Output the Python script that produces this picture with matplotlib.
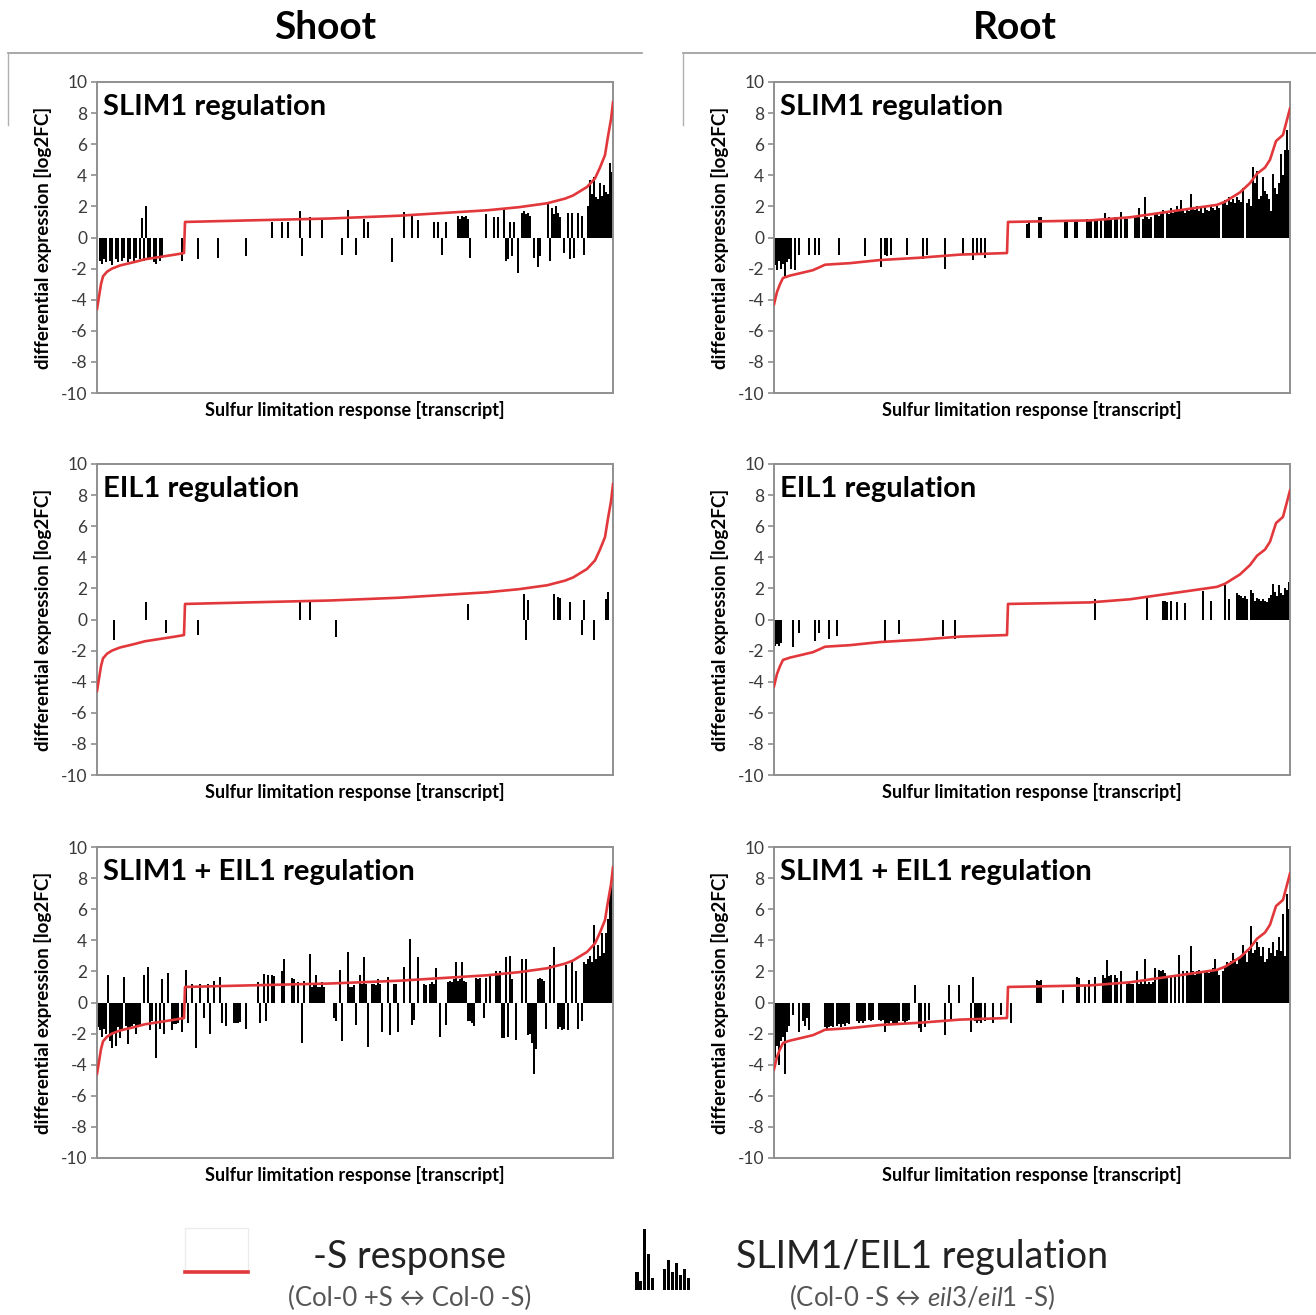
import numpy as np
import matplotlib
matplotlib.use('Agg')
import matplotlib.pyplot as plt
from matplotlib.lines import Line2D
from matplotlib.patches import Rectangle

plt.rcParams['font.family'] = ['Lato', 'DejaVu Sans']
plt.rcParams['axes.unicode_minus'] = False
plt.rcParams['mathtext.fontset'] = 'custom'
plt.rcParams['mathtext.rm'] = 'Lato'
plt.rcParams['mathtext.it'] = 'Lato:italic'

#########################################################################################
# data: transcripts ranked by -S response (Col-0 +S vs Col-0 -S), log2FC

n_transcripts = 258

# -S response curves (rank, log2FC)
shoot_curve_rank = [-0.5, 0.5, 1.5, 2.5, 4.5, 7, 11, 17.5, 23.5, 31, 38.5, 43, 43.5, 75.5,
                    115.5, 150.5, 194.5, 210.5, 224.5, 233.5, 237.5, 244.5, 248.5, 251,
                    253.5, 255, 256.5, 257.5]
shoot_curve_fc = [-4.6, -3.8, -3.0, -2.5, -2.2, -2.0, -1.8, -1.6, -1.4, -1.25, -1.1, -1.0, 1.0, 1.1,
                  1.22, 1.4, 1.75, 1.95, 2.2, 2.5, 2.7, 3.25, 3.8, 4.5,
                  5.3, 6.5, 7.6, 8.7]

root_curve_rank = [-0.5, 1, 2.5, 4, 7.5, 12.5, 19, 22.5, 25, 37.5, 52.5, 72.5, 92.5, 116, 116.5,
                   137.5, 157.5, 177.5, 191, 207.5, 221, 225, 232.5, 237.5, 241, 245, 247.5,
                   250.5, 254, 257.5]
root_curve_fc = [-4.3, -3.5, -3.0, -2.6, -2.45, -2.3, -2.1, -1.9, -1.75, -1.65, -1.45, -1.3, -1.1, -1.0, 1.0,
                 1.05, 1.1, 1.3, 1.55, 1.85, 2.1, 2.3, 2.9, 3.5, 4.1, 4.5, 5.0,
                 6.2, 6.6, 8.3]

# SLIM1/EIL1 regulation (Col-0 -S vs eil3/eil1 -S), log2FC per regulated transcript
shoot_slim1_rank = [1, 2, 3, 4, 6, 7, 9, 10, 12, 13, 15, 16, 18, 19, 21, 22, 23, 24, 25, 26, 28, 29, 31, 32,
                    42, 50, 60, 74, 87, 92, 95, 101, 102, 106, 112, 122, 125, 129, 133, 135, 147, 153, 157, 160, 168, 170, 172, 174,
                    180, 181, 182, 183, 184, 185, 186, 194, 198, 200, 203, 204, 205, 206, 207, 208, 210, 212, 213, 214, 215, 216, 218, 220, 221,
                    225, 226, 227, 228, 229, 230, 231, 233, 235, 236, 237, 238, 240, 242, 243, 245, 246, 247, 248, 249, 250, 251, 252, 253, 254, 255, 256, 257]
shoot_slim1_fc = [-1.5, -1.7, -1.4, -1.6, -1.5, -1.8, -1.4, -1.6, -1.5, -1.3, -1.6, -1.4, -1.5, -1.3, -1.4, 1.25, -1.5, 2.0, -1.3, -1.4, -1.6, -1.7, -1.5, -1.3,
                  -1.5, -1.4, -1.3, -1.2, 1.0, 1.0, 1.0, 1.7, -1.2, 1.3, 1.1, -1.1, 1.8, -1.1, 1.2, 1.0, -1.6, 1.65, 1.5, 1.1, 1.0, 1.0, -1.1, 1.0,
                  1.4, 1.2, 1.4, 1.3, 1.4, 1.2, -1.3, 1.5, 1.3, 1.3, 1.9, -1.5, -1.4, 1.0, -1.2, 1.0, -2.3, 1.6, 1.7, 1.5, 1.6, 1.4, -1.3, -1.9, -1.2,
                  2.2, -1.5, 1.9, 1.5, 2.0, 1.6, 1.3, -1.0, 1.6, -1.4, 1.6, -1.3, 1.6, 1.4, -1.1, 2.0, 3.7, 2.8, 3.9, 2.6, 2.5, 3.5, 2.7, 3.4, 2.9, 2.8, 4.8, 4.2]

shoot_eil1_rank = [8, 24, 34, 50, 101, 106, 119, 185, 213, 214, 215, 228, 230, 231, 236, 242, 243, 248, 254, 255]
shoot_eil1_fc = [-1.35, 1.1, -0.9, -1.0, 1.2, 1.2, -1.1, 1.0, 1.65, -1.35, 1.25, 1.65, 1.45, 1.4, 1.1, -1.0, 1.25, -1.35, 1.35, 1.8]

shoot_both_rank = [0, 1, 2, 3, 4, 5, 6, 7, 8, 9, 10, 11, 12, 13, 14, 15, 16, 17, 18, 19, 20, 21, 23, 25, 26, 27, 29, 31, 32, 33, 35, 37, 38, 39, 40, 42, 44, 45, 47, 49,
                   51, 53, 55, 56, 58, 61, 62, 64, 68, 69, 70, 71, 74, 80, 81, 83, 84, 85, 87, 88, 92, 93, 97, 98, 100, 102, 103, 106, 107, 108, 109, 110, 111, 112, 113,
                   118, 119, 121, 122, 125, 126, 127, 128, 129, 131, 132, 133, 134, 135, 137, 138, 139, 140, 141, 142, 145, 146, 148, 149, 150, 153, 156, 157, 158, 160,
                   163, 164, 166, 167, 168, 169, 171, 174, 175, 176, 177, 178, 179, 180, 181, 182, 183, 184, 185, 186, 187, 188, 189, 190, 191, 193, 194, 196, 199, 200,
                   201, 202, 203, 204, 205, 206, 207, 209, 212, 214, 215, 216, 217, 218, 219, 220, 221, 222, 223, 224, 226, 228, 230, 231, 232, 233, 234, 235, 237, 239,
                   240, 242, 243, 244, 245, 246, 247, 248, 249, 250, 251, 252, 253, 254, 255, 256, 257]
shoot_both_fc = [-1.6, -1.8, -2.2, -1.7, -2.0, 1.8, -2.5, -2.9, -2.0, -2.8, -1.6, -2.3, -1.7, 1.65, -1.5, -2.7, -1.6, -1.5, -1.4, -2.0, -1.5, -1.5, 1.8, 2.3, -1.8, -1.2, -3.6, -1.7, 1.5, -2.0, 1.9, -1.8, -1.4, -1.4, -1.3, -1.9, 2.1, -1.3, 1.2, -2.95,
                 1.2, -1.0, 1.2, -2.0, 1.4, 1.65, -1.3, -1.5, -1.3, -1.35, -1.3, -1.25, -1.7, 1.3, -1.3, 1.85, -1.2, 1.8, 1.8, 1.7, 2.0, 2.8, 1.6, 1.5, 1.3, -2.6, 1.4, 3.1, 1.0, 1.2, 1.8, 1.0, 1.0, 1.3, 1.0,
                 -1.0, -1.2, 2.1, -2.5, 3.25, 1.0, 1.0, 1.1, -1.45, 1.75, 1.2, 2.9, 1.2, -2.85, 1.2, 1.2, 1.1, 1.5, 1.2, -1.9, 1.65, -2.1, 1.2, 1.2, -1.9, 2.3, 4.1, -1.45, -1.1, 2.9,
                 1.2, 1.1, 1.2, 1.3, 1.2, 2.2, -2.2, -1.45, 1.3, 1.4, 1.3, 1.5, 2.6, 1.4, 1.5, 2.6, 1.4, 1.3, -1.2, -1.2, -1.3, -1.5, 1.6, 1.5, 1.6, -1.0, 1.6, 1.75, 2.0, 1.9,
                 2.0, -2.3, -2.3, 2.9, -2.2, 3.0, 1.5, -2.4, 2.8, 2.8, -2.1, -2.0, -2.6, -4.6, -3.0, 1.5, 1.6, 1.5, 1.4, -1.7, 2.4, 3.6, -1.7, -1.6, -1.8, -1.7, 2.4, -1.8, 2.6, 2.0,
                 -1.7, -1.2, 2.6, 2.5, 2.8, 3.0, 2.6, 5.0, 2.8, 3.7, 3.0, 4.5, 3.2, 4.5, 5.4, 7.1, 8.0]

root_slim1_rank = [0, 1, 2, 3, 4, 5, 6, 7, 8, 10, 12, 17, 20, 22, 32, 45, 53, 55, 56, 58, 66, 74, 76, 85, 94, 99, 101, 103, 105,
                   126, 127, 132, 133, 145, 146, 150, 151, 156, 157, 158, 160, 161, 163, 165, 166, 167, 168, 170, 171, 173, 175, 176, 180, 181, 182, 184, 185, 186, 187, 188,
                   190, 191, 192, 193, 194, 196, 197, 198, 199, 200, 201, 202, 203, 204, 205, 206, 207, 208, 209, 210, 211, 212, 213, 214, 215, 216, 217, 218, 219, 220, 221, 222,
                   224, 225, 226, 227, 228, 229, 230, 231, 232, 233, 234, 236, 237, 238, 239, 240, 241, 242, 243, 244, 245, 246, 247, 248, 249, 250, 251, 252, 253, 254, 255, 256, 257]
root_slim1_fc = [-1.8, -2.1, -1.5, -2.0, -1.7, -2.5, -1.6, -1.4, -2.0, -2.1, -1.1, -1.1, -1.1, -1.1, -1.1, -1.2, -1.9, -1.1, -1.2, -1.1, -1.1, -1.4, -1.1, -2.0, -1.1, -1.45, -1.1, -1.1, -1.35,
                 0.9, 1.0, 1.3, 1.3, 1.1, 1.1, 1.1, 1.1, 1.2, 1.1, 1.2, 1.2, 1.1, 1.2, 1.55, 1.2, 1.3, 1.1, 1.3, 1.2, 1.66, 1.3, 1.2, 1.3, 1.3, 1.9, 1.2, 2.6, 1.3, 1.2, 1.3,
                 1.6, 1.5, 1.4, 1.5, 1.8, 1.7, 1.5, 1.9, 1.6, 1.8, 2.0, 1.7, 2.4, 1.8, 1.6, 1.9, 1.7, 2.8, 1.9, 1.8, 2.0, 1.7, 1.9, 1.6, 2.0, 1.8, 1.7, 2.1, 1.9, 1.8, 2.0, 1.9,
                 2.2, 2.4, 2.1, 2.6, 2.3, 2.5, 2.2, 2.6, 2.4, 2.3, 3.2, 2.2, 2.5, 2.0, 4.55, 3.5, 4.3, 2.5, 2.7, 3.9, 3.0, 2.8, 2.5, 1.7, 4.1, 3.2, 2.8, 3.5, 5.4, 4.0, 5.6, 6.9, 5.6]

root_eil1_rank = [0, 1, 2, 3, 9, 12, 20, 22, 27, 31, 55, 62, 84, 90, 160, 186, 194, 195, 196, 198, 201, 205, 214, 218, 225,
                  227, 231, 232, 233, 234, 235, 236, 238, 239, 240, 241, 242, 243, 244, 245, 246, 247, 248, 249, 250, 251, 252, 253, 254, 255, 256, 257]
root_eil1_fc = [-1.7, -1.6, -1.7, -1.5, -1.8, -0.85, -1.4, -0.9, -1.27, -1.06, -1.38, -0.95, -1.06, -1.27, 1.3, 1.4, 1.2, 1.2, 1.1, 1.2, 1.1, 1.05, 1.83, 1.2, 2.25,
                1.3, 1.7, 1.6, 1.5, 1.4, 1.5, 1.3, 1.9, 1.7, 1.2, 1.4, 1.3, 1.2, 1.3, 1.2, 1.1, 1.4, 1.6, 2.3, 1.8, 1.5, 2.2, 1.7, 1.6, 2.0, 1.9, 2.4]

root_both_rank = [0, 1, 2, 3, 4, 5, 6, 7, 9, 12, 14, 15, 16, 17, 25, 26, 27, 28, 29, 31, 32, 33, 34, 35, 36, 37, 41, 42, 43, 44, 45, 47, 48, 49,
                  52, 53, 54, 55, 56, 57, 58, 59, 60, 61, 62, 64, 65, 66, 67, 70, 72, 73, 75, 77, 85, 87, 88, 92, 98, 99, 100, 101, 102, 103, 105, 109, 113, 118,
                  131, 132, 133, 144, 151, 152, 155, 157, 160, 164, 165, 166, 167, 168, 170, 171, 173, 176, 177, 178, 179, 181, 182, 183, 184, 185, 186, 187, 188, 189,
                  190, 192, 193, 194, 195, 196, 198, 200, 202, 204, 206, 207, 208, 209, 210, 211, 212, 213, 215, 216, 217, 218, 219, 220, 221, 222, 224,
                  225, 226, 227, 228, 229, 230, 231, 232, 233, 234, 235, 236, 237, 238, 239, 240, 241, 242, 243, 244, 245, 246, 247, 248, 249, 250, 251, 252, 253, 254, 255, 256, 257]
root_both_fc = [-3.6, -2.8, -4.0, -2.5, -2.2, -4.6, -1.9, -1.5, -0.8, -1.9, -1.2, -1.5, -1.0, -1.8, -1.6, -1.7, -1.6, -1.5, -1.6, -1.5, -1.4, -1.6, -1.4, -1.5, -1.3, -1.4, -1.2, -1.3, -1.2, -1.3, -1.2, -1.1, -1.2, -1.1,
                -1.1, -1.2, -1.1, -1.9, -1.3, -1.4, -1.2, -1.4, -1.3, -1.45, -1.2, -1.2, -1.3, -1.2, -1.1, 1.1, -1.65, -1.9, -1.55, -1.1, -2.1, 1.1, -1.2, 1.1, -1.9, 1.65, -1.2, -1.3, -1.2, -1.3, -1.2, -1.3, -0.8, -1.35,
                1.45, 1.4, 1.45, 0.8, 1.65, 1.6, 1.1, 1.45, 1.65, 1.75, 1.6, 2.75, 1.7, 1.75, 1.75, 1.6, 2.0, 1.2, 1.3, 1.2, 1.2, 2.0, 1.2, 1.3, 1.2, 2.8, 1.2, 1.3, 1.2, 1.3,
                2.2, 2.1, 2.0, 2.1, 1.9, 1.65, 1.65, 1.75, 3.05, 2.0, 2.0, 1.9, 3.65, 2.0, 1.8, 2.0, 2.1, 1.9, 2.0, 2.1, 1.9, 2.0, 2.2, 2.8, 2.0, 1.8, 2.0,
                2.3, 2.6, 2.4, 2.7, 3.2, 2.8, 2.5, 2.9, 3.0, 3.7, 3.1, 2.6, 3.3, 4.9, 3.2, 3.4, 3.9, 3.6, 3.0, 3.6, 2.6, 2.8, 3.5, 3.2, 3.9, 3.0, 3.4, 4.2, 3.3, 5.7, 3.0, 7.0, 6.0]

panel_titles = ['SLIM1 regulation', 'EIL1 regulation', 'SLIM1 + EIL1 regulation']
column_titles = ['Shoot', 'Root']

# little bar glyph for the legend
icon_pos = [0, 1, 2, 3, 4, 7, 8, 9, 10, 11, 12, 13]
icon_height = [0.3, 0.15, 1.0, 0.6, 0.2, 0.35, 0.5, 0.3, 0.45, 0.25, 0.35, 0.2]

#########################################################################################

W, H = 1316, 1315
fig = plt.figure(figsize=(W / 100, H / 100), dpi=100)

def px_rect(left, top, right, bottom):
    return [left / W, 1 - bottom / H, (right - left) / W, (bottom - top) / H]

def px(x, y):
    return x / W, 1 - y / H

red = '#e2383b'
frame = '#8f8f8f'

columns = {
    'Shoot': dict(left=97, right=613, title_x=325, curve=(shoot_curve_rank, shoot_curve_fc),
                  bars=[(shoot_slim1_rank, shoot_slim1_fc), (shoot_eil1_rank, shoot_eil1_fc),
                        (shoot_both_rank, shoot_both_fc)]),
    'Root': dict(left=774, right=1290, title_x=1015, curve=(root_curve_rank, root_curve_fc),
                 bars=[(root_slim1_rank, root_slim1_fc), (root_eil1_rank, root_eil1_fc),
                       (root_both_rank, root_both_fc)]),
}
row_tops = [82, 464, 847]
row_height = 311

for name in column_titles:
    col = columns[name]
    for r, top in enumerate(row_tops):
        rank, fc = col['bars'][r]
        assert len(rank) == len(fc)
        ax = fig.add_axes(px_rect(col['left'], top, col['right'], top + row_height))
        ax.bar(rank, fc, width=0.85, color='black', linewidth=0, zorder=2)
        ax.plot(col['curve'][0], col['curve'][1], color=red, lw=1.9, zorder=3)
        ax.set_xlim(-0.5, n_transcripts - 0.5)
        ax.set_ylim(-10, 10)
        ax.set_yticks(range(-10, 11, 2))
        ax.set_xticks([])
        for s in ax.spines.values():
            s.set_color(frame)
            s.set_linewidth(1.4)
        ax.tick_params(axis='y', length=4, width=1.2, color=frame, labelsize=12.5,
                       labelcolor='#3a3a3a', pad=3)
        ax.set_ylabel('differential expression [log2FC]', fontsize=13.5, fontweight='bold')
        ax.yaxis.set_label_coords(-45 / 516, 0.5)
        ax.set_xlabel('Sulfur limitation response [transcript]', fontsize=13, fontweight='bold')
        ax.xaxis.set_label_coords(0.5, -8 / 311)
        ax.text(6 / 516, 1 - 33 / 311, panel_titles[r], transform=ax.transAxes,
                fontsize=21, fontweight='bold', ha='left', va='baseline')

    # column header
    fig.text(*px(col['title_x'], 39), name, fontsize=28, fontweight='bold', ha='center',
             va='baseline')

# header rules
for x0, x1 in [(8, 642), (683, 1316)]:
    fig.add_artist(Line2D([x0 / W, x1 / W], [1 - 53 / H] * 2, color='#9a9a9a', lw=1.2))
    fig.add_artist(Line2D([x0 / W] * 2, [1 - 53 / H, 1 - 125 / H], color='#b0b0b0', lw=1.0))

# legend: red response line
fig.add_artist(Rectangle(px(185, 1272), 63 / W, 44 / H, fill=False, edgecolor='#ececec', lw=1.0))
fig.add_artist(Line2D([185 / W, 248 / W], [1 - 1272 / H] * 2, color=red, lw=2.6))
fig.text(*px(410, 1268), '-S response', fontsize=27, ha='center', va='baseline', color='#222222')
fig.text(*px(410, 1306), '(Col-0 +S \u2194 Col-0 -S)', fontsize=18.5, ha='center', va='baseline',
         color='#555555')

# legend: bar glyph
icon = fig.add_axes(px_rect(633, 1228, 694, 1290))
icon.bar(icon_pos, icon_height, width=0.8, color='black', linewidth=0)
icon.set_xlim(-1, 14.5)
icon.set_ylim(0, 1.02)
icon.axis('off')
fig.text(*px(922, 1268), 'SLIM1/EIL1 regulation', fontsize=27, ha='center', va='baseline',
         color='#222222')
fig.text(*px(922, 1306), '(Col-0 -S \u2194 $\\mathit{eil3/eil1}$ -S)', fontsize=18.5,
         ha='center', va='baseline', color='#555555')

fig.savefig('out.png', dpi=100)
